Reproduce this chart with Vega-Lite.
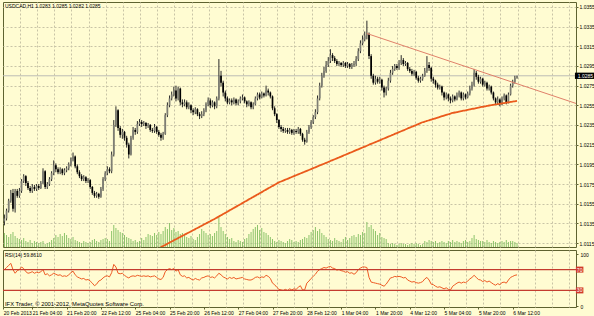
{
"$schema": "https://vega.github.io/schema/vega-lite/v6.json",
"background": "#FFFCD2",
"padding": {"left": 1, "top": 1, "right": 0, "bottom": 0},
"config": {
 "view": {"stroke": "#5E6230", "strokeWidth": 1},
 "axis": {"labelFont": "Liberation Sans", "labelFontSize": 5, "labelColor": "#000000", "tickColor": "#5E6230", "tickSize": 2, "domain": false, "gridColor": "#C8C4A6", "gridDash": [2, 2], "gridWidth": 1, "labelOverlap": false, "labelBound": false},
 "text": {"font": "Liberation Sans"}
},
"datasets": {
 "bars": [
{"i":0,"o":1.0137,"h":1.0144,"l":1.0133,"c":1.0140,"v":14,"r":70},
{"i":1,"o":1.0140,"h":1.0150,"l":1.0138,"c":1.0148,"v":12,"r":74},
{"i":2,"o":1.0148,"h":1.0160,"l":1.0146,"c":1.0158,"v":10,"r":78},
{"i":3,"o":1.0158,"h":1.0169,"l":1.0156,"c":1.0166,"v":13,"r":82},
{"i":4,"o":1.0166,"h":1.0170,"l":1.0147,"c":1.0150,"v":15,"r":70},
{"i":5,"o":1.0150,"h":1.0170,"l":1.0146,"c":1.0168,"v":11,"r":63},
{"i":6,"o":1.0168,"h":1.0170,"l":1.0161,"c":1.0163,"v":9,"r":68},
{"i":7,"o":1.0163,"h":1.0171,"l":1.0161,"c":1.0168,"v":8,"r":70},
{"i":8,"o":1.0168,"h":1.0180,"l":1.0166,"c":1.0178,"v":7,"r":75},
{"i":9,"o":1.0178,"h":1.0185,"l":1.0176,"c":1.0183,"v":9,"r":72},
{"i":10,"o":1.0183,"h":1.0184,"l":1.0173,"c":1.0176,"v":6,"r":66},
{"i":11,"o":1.0176,"h":1.0178,"l":1.0169,"c":1.0171,"v":5,"r":63},
{"i":12,"o":1.0171,"h":1.0173,"l":1.0166,"c":1.0168,"v":7,"r":64},
{"i":13,"o":1.0168,"h":1.0175,"l":1.0166,"c":1.0172,"v":4,"r":66},
{"i":14,"o":1.0172,"h":1.0174,"l":1.0168,"c":1.0170,"v":6,"r":63},
{"i":15,"o":1.0170,"h":1.0175,"l":1.0168,"c":1.0173,"v":5,"r":65},
{"i":16,"o":1.0173,"h":1.0175,"l":1.0169,"c":1.0171,"v":4,"r":64},
{"i":17,"o":1.0171,"h":1.0178,"l":1.0170,"c":1.0176,"v":5,"r":66},
{"i":18,"o":1.0176,"h":1.0191,"l":1.0175,"c":1.0188,"v":6,"r":70},
{"i":19,"o":1.0188,"h":1.0189,"l":1.0170,"c":1.0172,"v":3,"r":60},
{"i":20,"o":1.0172,"h":1.0177,"l":1.0170,"c":1.0175,"v":4,"r":62},
{"i":21,"o":1.0175,"h":1.0182,"l":1.0173,"c":1.0180,"v":5,"r":58},
{"i":22,"o":1.0180,"h":1.0188,"l":1.0178,"c":1.0186,"v":7,"r":60},
{"i":23,"o":1.0186,"h":1.0199,"l":1.0184,"c":1.0194,"v":9,"r":63},
{"i":24,"o":1.0194,"h":1.0196,"l":1.0187,"c":1.0190,"v":12,"r":61},
{"i":25,"o":1.0190,"h":1.0192,"l":1.0185,"c":1.0187,"v":10,"r":59},
{"i":26,"o":1.0187,"h":1.0192,"l":1.0185,"c":1.0190,"v":13,"r":60},
{"i":27,"o":1.0190,"h":1.0191,"l":1.0184,"c":1.0186,"v":11,"r":57},
{"i":28,"o":1.0186,"h":1.0191,"l":1.0184,"c":1.0189,"v":14,"r":58},
{"i":29,"o":1.0189,"h":1.0193,"l":1.0187,"c":1.0191,"v":12,"r":57},
{"i":30,"o":1.0191,"h":1.0197,"l":1.0189,"c":1.0195,"v":9,"r":60},
{"i":31,"o":1.0195,"h":1.0202,"l":1.0193,"c":1.0200,"v":8,"r":64},
{"i":32,"o":1.0200,"h":1.0207,"l":1.0198,"c":1.0203,"v":10,"r":67},
{"i":33,"o":1.0203,"h":1.0204,"l":1.0191,"c":1.0193,"v":7,"r":60},
{"i":34,"o":1.0193,"h":1.0195,"l":1.0185,"c":1.0187,"v":6,"r":56},
{"i":35,"o":1.0187,"h":1.0189,"l":1.0181,"c":1.0183,"v":5,"r":54},
{"i":36,"o":1.0183,"h":1.0185,"l":1.0178,"c":1.0180,"v":4,"r":52},
{"i":37,"o":1.0180,"h":1.0184,"l":1.0178,"c":1.0182,"v":6,"r":53},
{"i":38,"o":1.0182,"h":1.0183,"l":1.0176,"c":1.0178,"v":5,"r":50},
{"i":39,"o":1.0178,"h":1.0181,"l":1.0176,"c":1.0179,"v":4,"r":51},
{"i":40,"o":1.0179,"h":1.0180,"l":1.0170,"c":1.0172,"v":5,"r":48},
{"i":41,"o":1.0172,"h":1.0173,"l":1.0164,"c":1.0166,"v":7,"r":44},
{"i":42,"o":1.0166,"h":1.0168,"l":1.0161,"c":1.0163,"v":8,"r":39},
{"i":43,"o":1.0163,"h":1.0167,"l":1.0161,"c":1.0165,"v":6,"r":42},
{"i":44,"o":1.0165,"h":1.0166,"l":1.0160,"c":1.0162,"v":5,"r":48},
{"i":45,"o":1.0162,"h":1.0172,"l":1.0161,"c":1.0170,"v":7,"r":50},
{"i":46,"o":1.0170,"h":1.0182,"l":1.0168,"c":1.0180,"v":8,"r":54},
{"i":47,"o":1.0180,"h":1.0188,"l":1.0178,"c":1.0186,"v":9,"r":57},
{"i":48,"o":1.0186,"h":1.0193,"l":1.0184,"c":1.0190,"v":8,"r":58},
{"i":49,"o":1.0190,"h":1.0192,"l":1.0186,"c":1.0188,"v":6,"r":56},
{"i":50,"o":1.0188,"h":1.0208,"l":1.0186,"c":1.0205,"v":16,"r":64},
{"i":51,"o":1.0205,"h":1.0240,"l":1.0203,"c":1.0235,"v":22,"r":80},
{"i":52,"o":1.0235,"h":1.0254,"l":1.0233,"c":1.0250,"v":19,"r":75},
{"i":53,"o":1.0250,"h":1.0251,"l":1.0229,"c":1.0232,"v":17,"r":63},
{"i":54,"o":1.0232,"h":1.0234,"l":1.0222,"c":1.0225,"v":15,"r":62},
{"i":55,"o":1.0225,"h":1.0231,"l":1.0221,"c":1.0228,"v":14,"r":63},
{"i":56,"o":1.0228,"h":1.0229,"l":1.0219,"c":1.0222,"v":12,"r":59},
{"i":57,"o":1.0222,"h":1.0224,"l":1.0212,"c":1.0215,"v":10,"r":56},
{"i":58,"o":1.0215,"h":1.0217,"l":1.0201,"c":1.0205,"v":9,"r":54},
{"i":59,"o":1.0205,"h":1.0224,"l":1.0204,"c":1.0222,"v":8,"r":57},
{"i":60,"o":1.0222,"h":1.0233,"l":1.0220,"c":1.0230,"v":6,"r":58},
{"i":61,"o":1.0230,"h":1.0232,"l":1.0225,"c":1.0228,"v":7,"r":57},
{"i":62,"o":1.0228,"h":1.0239,"l":1.0226,"c":1.0236,"v":5,"r":59},
{"i":63,"o":1.0236,"h":1.0241,"l":1.0234,"c":1.0238,"v":6,"r":58},
{"i":64,"o":1.0238,"h":1.0240,"l":1.0233,"c":1.0236,"v":9,"r":57},
{"i":65,"o":1.0236,"h":1.0239,"l":1.0234,"c":1.0237,"v":7,"r":58},
{"i":66,"o":1.0237,"h":1.0238,"l":1.0231,"c":1.0234,"v":10,"r":57},
{"i":67,"o":1.0234,"h":1.0237,"l":1.0232,"c":1.0235,"v":13,"r":58},
{"i":68,"o":1.0235,"h":1.0236,"l":1.0228,"c":1.0230,"v":12,"r":56},
{"i":69,"o":1.0230,"h":1.0232,"l":1.0227,"c":1.0229,"v":11,"r":57},
{"i":70,"o":1.0229,"h":1.0236,"l":1.0227,"c":1.0233,"v":14,"r":58,"m":1.01074},
{"i":71,"o":1.0233,"h":1.0234,"l":1.0226,"c":1.0228,"v":12,"r":55,"m":1.01085},
{"i":72,"o":1.0228,"h":1.0230,"l":1.0223,"c":1.0225,"v":15,"r":52,"m":1.01097},
{"i":73,"o":1.0225,"h":1.0227,"l":1.0219,"c":1.0222,"v":13,"r":51,"m":1.01108},
{"i":74,"o":1.0222,"h":1.0228,"l":1.0220,"c":1.0226,"v":16,"r":55,"m":1.01120},
{"i":75,"o":1.0226,"h":1.0247,"l":1.0225,"c":1.0245,"v":20,"r":66,"m":1.01131},
{"i":76,"o":1.0245,"h":1.0258,"l":1.0243,"c":1.0255,"v":18,"r":70,"m":1.01143},
{"i":77,"o":1.0255,"h":1.0265,"l":1.0253,"c":1.0262,"v":24,"r":72,"m":1.01154},
{"i":78,"o":1.0262,"h":1.0269,"l":1.0260,"c":1.0266,"v":17,"r":70,"m":1.01166},
{"i":79,"o":1.0266,"h":1.0274,"l":1.0264,"c":1.0270,"v":19,"r":72,"m":1.01177},
{"i":80,"o":1.0270,"h":1.0275,"l":1.0259,"c":1.0262,"v":15,"r":67,"m":1.01189},
{"i":81,"o":1.0262,"h":1.0274,"l":1.0260,"c":1.0272,"v":16,"r":70,"m":1.01200},
{"i":82,"o":1.0272,"h":1.0273,"l":1.0255,"c":1.0258,"v":13,"r":60,"m":1.01212},
{"i":83,"o":1.0258,"h":1.0261,"l":1.0253,"c":1.0256,"v":14,"r":57,"m":1.01223},
{"i":84,"o":1.0256,"h":1.0261,"l":1.0254,"c":1.0258,"v":12,"r":58,"m":1.01235},
{"i":85,"o":1.0258,"h":1.0260,"l":1.0251,"c":1.0253,"v":10,"r":54,"m":1.01246},
{"i":86,"o":1.0253,"h":1.0258,"l":1.0251,"c":1.0255,"v":9,"r":55,"m":1.01258},
{"i":87,"o":1.0255,"h":1.0256,"l":1.0247,"c":1.0250,"v":11,"r":52,"m":1.01269},
{"i":88,"o":1.0250,"h":1.0252,"l":1.0245,"c":1.0248,"v":8,"r":50,"m":1.01280},
{"i":89,"o":1.0248,"h":1.0253,"l":1.0246,"c":1.0251,"v":7,"r":53,"m":1.01292},
{"i":90,"o":1.0251,"h":1.0252,"l":1.0244,"c":1.0246,"v":10,"r":51,"m":1.01303},
{"i":91,"o":1.0246,"h":1.0248,"l":1.0241,"c":1.0244,"v":13,"r":50,"m":1.01315},
{"i":92,"o":1.0244,"h":1.0249,"l":1.0242,"c":1.0246,"v":18,"r":54,"m":1.01326},
{"i":93,"o":1.0246,"h":1.0252,"l":1.0244,"c":1.0250,"v":16,"r":55,"m":1.01338},
{"i":94,"o":1.0250,"h":1.0258,"l":1.0248,"c":1.0256,"v":14,"r":57,"m":1.01349},
{"i":95,"o":1.0256,"h":1.0263,"l":1.0254,"c":1.0260,"v":12,"r":58,"m":1.01361},
{"i":96,"o":1.0260,"h":1.0262,"l":1.0252,"c":1.0255,"v":13,"r":55,"m":1.01372},
{"i":97,"o":1.0255,"h":1.0260,"l":1.0253,"c":1.0258,"v":11,"r":56,"m":1.01384},
{"i":98,"o":1.0258,"h":1.0259,"l":1.0251,"c":1.0254,"v":14,"r":54,"m":1.01395},
{"i":99,"o":1.0254,"h":1.0264,"l":1.0252,"c":1.0262,"v":16,"r":58,"m":1.01407},
{"i":100,"o":1.0262,"h":1.0302,"l":1.0260,"c":1.0285,"v":30,"r":63,"m":1.01420},
{"i":101,"o":1.0285,"h":1.0290,"l":1.0274,"c":1.0278,"v":20,"r":60,"m":1.01432},
{"i":102,"o":1.0278,"h":1.0280,"l":1.0264,"c":1.0268,"v":16,"r":56,"m":1.01445},
{"i":103,"o":1.0268,"h":1.0270,"l":1.0259,"c":1.0262,"v":13,"r":54,"m":1.01457},
{"i":104,"o":1.0262,"h":1.0264,"l":1.0256,"c":1.0258,"v":10,"r":52,"m":1.01469},
{"i":105,"o":1.0258,"h":1.0262,"l":1.0256,"c":1.0260,"v":8,"r":55,"m":1.01482},
{"i":106,"o":1.0260,"h":1.0262,"l":1.0255,"c":1.0258,"v":9,"r":53,"m":1.01494},
{"i":107,"o":1.0258,"h":1.0263,"l":1.0256,"c":1.0261,"v":6,"r":55,"m":1.01507},
{"i":108,"o":1.0261,"h":1.0262,"l":1.0255,"c":1.0257,"v":5,"r":52,"m":1.01519},
{"i":109,"o":1.0257,"h":1.0261,"l":1.0255,"c":1.0259,"v":7,"r":53,"m":1.01532},
{"i":110,"o":1.0259,"h":1.0264,"l":1.0257,"c":1.0262,"v":6,"r":54,"m":1.01544},
{"i":111,"o":1.0262,"h":1.0266,"l":1.0260,"c":1.0263,"v":5,"r":55,"m":1.01556},
{"i":112,"o":1.0263,"h":1.0264,"l":1.0257,"c":1.0259,"v":8,"r":52,"m":1.01569},
{"i":113,"o":1.0259,"h":1.0260,"l":1.0253,"c":1.0256,"v":9,"r":51,"m":1.01581},
{"i":114,"o":1.0256,"h":1.0260,"l":1.0254,"c":1.0258,"v":13,"r":50,"m":1.01594},
{"i":115,"o":1.0258,"h":1.0259,"l":1.0251,"c":1.0253,"v":15,"r":50,"m":1.01606},
{"i":116,"o":1.0253,"h":1.0258,"l":1.0251,"c":1.0256,"v":18,"r":52,"m":1.01619},
{"i":117,"o":1.0256,"h":1.0264,"l":1.0255,"c":1.0262,"v":20,"r":55,"m":1.01631},
{"i":118,"o":1.0262,"h":1.0268,"l":1.0260,"c":1.0266,"v":22,"r":56,"m":1.01643},
{"i":119,"o":1.0266,"h":1.0268,"l":1.0261,"c":1.0263,"v":17,"r":54,"m":1.01656},
{"i":120,"o":1.0263,"h":1.0269,"l":1.0262,"c":1.0267,"v":19,"r":56,"m":1.01668},
{"i":121,"o":1.0267,"h":1.0268,"l":1.0263,"c":1.0265,"v":15,"r":55,"m":1.01681},
{"i":122,"o":1.0265,"h":1.0275,"l":1.0264,"c":1.0270,"v":14,"r":59,"m":1.01693},
{"i":123,"o":1.0270,"h":1.0272,"l":1.0265,"c":1.0268,"v":12,"r":57,"m":1.01706},
{"i":124,"o":1.0268,"h":1.0269,"l":1.0262,"c":1.0264,"v":10,"r":53,"m":1.01718},
{"i":125,"o":1.0264,"h":1.0265,"l":1.0250,"c":1.0252,"v":8,"r":44,"m":1.01730},
{"i":126,"o":1.0252,"h":1.0254,"l":1.0244,"c":1.0246,"v":6,"r":41,"m":1.01743},
{"i":127,"o":1.0246,"h":1.0247,"l":1.0237,"c":1.0240,"v":5,"r":36,"m":1.01755},
{"i":128,"o":1.0240,"h":1.0241,"l":1.0231,"c":1.0233,"v":7,"r":32,"m":1.01767},
{"i":129,"o":1.0233,"h":1.0235,"l":1.0228,"c":1.0231,"v":6,"r":31,"m":1.01776},
{"i":130,"o":1.0231,"h":1.0233,"l":1.0227,"c":1.0229,"v":5,"r":30,"m":1.01785},
{"i":131,"o":1.0229,"h":1.0232,"l":1.0227,"c":1.0230,"v":4,"r":32,"m":1.01794},
{"i":132,"o":1.0230,"h":1.0232,"l":1.0226,"c":1.0228,"v":6,"r":30,"m":1.01803},
{"i":133,"o":1.0228,"h":1.0232,"l":1.0226,"c":1.0230,"v":8,"r":33,"m":1.01812},
{"i":134,"o":1.0230,"h":1.0231,"l":1.0225,"c":1.0227,"v":7,"r":31,"m":1.01821},
{"i":135,"o":1.0227,"h":1.0231,"l":1.0225,"c":1.0229,"v":5,"r":33,"m":1.01830},
{"i":136,"o":1.0229,"h":1.0231,"l":1.0226,"c":1.0228,"v":6,"r":32,"m":1.01839},
{"i":137,"o":1.0228,"h":1.0233,"l":1.0226,"c":1.0231,"v":5,"r":36,"m":1.01848},
{"i":138,"o":1.0231,"h":1.0232,"l":1.0224,"c":1.0226,"v":7,"r":39,"m":1.01857},
{"i":139,"o":1.0226,"h":1.0227,"l":1.0218,"c":1.0220,"v":8,"r":31,"m":1.01866},
{"i":140,"o":1.0220,"h":1.0222,"l":1.0215,"c":1.0218,"v":10,"r":31,"m":1.01875},
{"i":141,"o":1.0218,"h":1.0230,"l":1.0217,"c":1.0228,"v":9,"r":44,"m":1.01884},
{"i":142,"o":1.0228,"h":1.0235,"l":1.0226,"c":1.0233,"v":12,"r":48,"m":1.01893},
{"i":143,"o":1.0233,"h":1.0240,"l":1.0231,"c":1.0238,"v":15,"r":53,"m":1.01902},
{"i":144,"o":1.0238,"h":1.0245,"l":1.0236,"c":1.0243,"v":17,"r":57,"m":1.01911},
{"i":145,"o":1.0243,"h":1.0251,"l":1.0241,"c":1.0248,"v":20,"r":61,"m":1.01920},
{"i":146,"o":1.0248,"h":1.0265,"l":1.0246,"c":1.0262,"v":16,"r":67,"m":1.01929},
{"i":147,"o":1.0262,"h":1.0278,"l":1.0260,"c":1.0275,"v":18,"r":70,"m":1.01938},
{"i":148,"o":1.0275,"h":1.0288,"l":1.0273,"c":1.0285,"v":14,"r":72,"m":1.01947},
{"i":149,"o":1.0285,"h":1.0294,"l":1.0283,"c":1.0290,"v":12,"r":74,"m":1.01956},
{"i":150,"o":1.0290,"h":1.0300,"l":1.0288,"c":1.0296,"v":10,"r":73,"m":1.01965},
{"i":151,"o":1.0296,"h":1.0304,"l":1.0294,"c":1.0300,"v":8,"r":75,"m":1.01974},
{"i":152,"o":1.0300,"h":1.0312,"l":1.0298,"c":1.0306,"v":7,"r":76,"m":1.01984},
{"i":153,"o":1.0306,"h":1.0308,"l":1.0300,"c":1.0303,"v":6,"r":73,"m":1.01993},
{"i":154,"o":1.0303,"h":1.0305,"l":1.0298,"c":1.0300,"v":9,"r":72,"m":1.02002},
{"i":155,"o":1.0300,"h":1.0302,"l":1.0295,"c":1.0297,"v":7,"r":69,"m":1.02011},
{"i":156,"o":1.0297,"h":1.0300,"l":1.0295,"c":1.0298,"v":6,"r":70,"m":1.02020},
{"i":157,"o":1.0298,"h":1.0299,"l":1.0294,"c":1.0296,"v":5,"r":68,"m":1.02029},
{"i":158,"o":1.0296,"h":1.0300,"l":1.0294,"c":1.0298,"v":8,"r":67,"m":1.02039},
{"i":159,"o":1.0298,"h":1.0299,"l":1.0293,"c":1.0295,"v":10,"r":65,"m":1.02048},
{"i":160,"o":1.0295,"h":1.0299,"l":1.0293,"c":1.0297,"v":7,"r":66,"m":1.02057},
{"i":161,"o":1.0297,"h":1.0298,"l":1.0292,"c":1.0294,"v":9,"r":63,"m":1.02066},
{"i":162,"o":1.0294,"h":1.0298,"l":1.0292,"c":1.0296,"v":11,"r":64,"m":1.02075},
{"i":163,"o":1.0296,"h":1.0300,"l":1.0294,"c":1.0297,"v":12,"r":61,"m":1.02084},
{"i":164,"o":1.0297,"h":1.0305,"l":1.0295,"c":1.0302,"v":10,"r":64,"m":1.02094},
{"i":165,"o":1.0302,"h":1.0313,"l":1.0300,"c":1.0310,"v":13,"r":70,"m":1.02103},
{"i":166,"o":1.0310,"h":1.0321,"l":1.0308,"c":1.0318,"v":12,"r":73,"m":1.02112},
{"i":167,"o":1.0318,"h":1.0326,"l":1.0316,"c":1.0322,"v":15,"r":75,"m":1.02121},
{"i":168,"o":1.0322,"h":1.0330,"l":1.0320,"c":1.0326,"v":14,"r":75,"m":1.02130},
{"i":169,"o":1.0326,"h":1.0341,"l":1.0322,"c":1.0327,"v":25,"r":74,"m":1.02139},
{"i":170,"o":1.0327,"h":1.0329,"l":1.0302,"c":1.0305,"v":20,"r":55,"m":1.02149},
{"i":171,"o":1.0305,"h":1.0307,"l":1.0282,"c":1.0285,"v":22,"r":46,"m":1.02158},
{"i":172,"o":1.0285,"h":1.0287,"l":1.0276,"c":1.0278,"v":18,"r":45,"m":1.02167},
{"i":173,"o":1.0278,"h":1.0285,"l":1.0276,"c":1.0282,"v":16,"r":44,"m":1.02176},
{"i":174,"o":1.0282,"h":1.0284,"l":1.0277,"c":1.0279,"v":12,"r":43,"m":1.02185},
{"i":175,"o":1.0279,"h":1.0284,"l":1.0277,"c":1.0281,"v":14,"r":42,"m":1.02194},
{"i":176,"o":1.0281,"h":1.0282,"l":1.0270,"c":1.0273,"v":10,"r":40,"m":1.02204},
{"i":177,"o":1.0273,"h":1.0275,"l":1.0263,"c":1.0268,"v":9,"r":38,"m":1.02213},
{"i":178,"o":1.0268,"h":1.0274,"l":1.0265,"c":1.0272,"v":8,"r":42,"m":1.02222},
{"i":179,"o":1.0272,"h":1.0283,"l":1.0270,"c":1.0280,"v":4,"r":48,"m":1.02231},
{"i":180,"o":1.0280,"h":1.0291,"l":1.0278,"c":1.0288,"v":3,"r":54,"m":1.02240},
{"i":181,"o":1.0288,"h":1.0295,"l":1.0286,"c":1.0292,"v":4,"r":55,"m":1.02249},
{"i":182,"o":1.0292,"h":1.0297,"l":1.0290,"c":1.0295,"v":3,"r":57,"m":1.02259},
{"i":183,"o":1.0295,"h":1.0297,"l":1.0291,"c":1.0293,"v":2,"r":56,"m":1.02268},
{"i":184,"o":1.0293,"h":1.0301,"l":1.0291,"c":1.0298,"v":3,"r":57,"m":1.02277},
{"i":185,"o":1.0298,"h":1.0306,"l":1.0296,"c":1.0301,"v":4,"r":56,"m":1.02286},
{"i":186,"o":1.0301,"h":1.0303,"l":1.0295,"c":1.0297,"v":3,"r":54,"m":1.02295},
{"i":187,"o":1.0297,"h":1.0300,"l":1.0295,"c":1.0298,"v":3,"r":55,"m":1.02304},
{"i":188,"o":1.0298,"h":1.0299,"l":1.0290,"c":1.0292,"v":2,"r":50,"m":1.02314},
{"i":189,"o":1.0292,"h":1.0294,"l":1.0288,"c":1.0290,"v":3,"r":48,"m":1.02323},
{"i":190,"o":1.0290,"h":1.0292,"l":1.0285,"c":1.0287,"v":4,"r":46,"m":1.02332},
{"i":191,"o":1.0287,"h":1.0291,"l":1.0285,"c":1.0289,"v":3,"r":47,"m":1.02341},
{"i":192,"o":1.0289,"h":1.0290,"l":1.0281,"c":1.0283,"v":4,"r":45,"m":1.02350},
{"i":193,"o":1.0283,"h":1.0285,"l":1.0278,"c":1.0280,"v":3,"r":44,"m":1.02359},
{"i":194,"o":1.0280,"h":1.0284,"l":1.0278,"c":1.0282,"v":2,"r":45,"m":1.02369},
{"i":195,"o":1.0282,"h":1.0287,"l":1.0280,"c":1.0285,"v":3,"r":47,"m":1.02378},
{"i":196,"o":1.0285,"h":1.0293,"l":1.0284,"c":1.0290,"v":6,"r":52,"m":1.02385},
{"i":197,"o":1.0290,"h":1.0305,"l":1.0288,"c":1.0296,"v":5,"r":55,"m":1.02391},
{"i":198,"o":1.0296,"h":1.0299,"l":1.0290,"c":1.0293,"v":7,"r":50,"m":1.02398},
{"i":199,"o":1.0293,"h":1.0294,"l":1.0279,"c":1.0282,"v":6,"r":42,"m":1.02405},
{"i":200,"o":1.0282,"h":1.0284,"l":1.0277,"c":1.0280,"v":5,"r":41,"m":1.02412},
{"i":201,"o":1.0280,"h":1.0281,"l":1.0273,"c":1.0276,"v":6,"r":38,"m":1.02418},
{"i":202,"o":1.0276,"h":1.0278,"l":1.0271,"c":1.0273,"v":4,"r":36,"m":1.02425},
{"i":203,"o":1.0273,"h":1.0276,"l":1.0271,"c":1.0274,"v":5,"r":37,"m":1.02432},
{"i":204,"o":1.0274,"h":1.0275,"l":1.0265,"c":1.0268,"v":6,"r":35,"m":1.02439},
{"i":205,"o":1.0268,"h":1.0269,"l":1.0260,"c":1.0263,"v":5,"r":33,"m":1.02445},
{"i":206,"o":1.0263,"h":1.0268,"l":1.0261,"c":1.0266,"v":4,"r":35,"m":1.02452},
{"i":207,"o":1.0266,"h":1.0267,"l":1.0259,"c":1.0262,"v":6,"r":32,"m":1.02459},
{"i":208,"o":1.0262,"h":1.0264,"l":1.0257,"c":1.0260,"v":5,"r":31,"m":1.02466},
{"i":209,"o":1.0260,"h":1.0266,"l":1.0258,"c":1.0264,"v":7,"r":38,"m":1.02472},
{"i":210,"o":1.0264,"h":1.0265,"l":1.0259,"c":1.0261,"v":5,"r":41,"m":1.02477},
{"i":211,"o":1.0261,"h":1.0268,"l":1.0260,"c":1.0265,"v":6,"r":44,"m":1.02481},
{"i":212,"o":1.0265,"h":1.0270,"l":1.0263,"c":1.0268,"v":5,"r":46,"m":1.02486},
{"i":213,"o":1.0268,"h":1.0269,"l":1.0260,"c":1.0262,"v":4,"r":44,"m":1.02490},
{"i":214,"o":1.0262,"h":1.0268,"l":1.0260,"c":1.0266,"v":6,"r":46,"m":1.02495},
{"i":215,"o":1.0266,"h":1.0267,"l":1.0261,"c":1.0263,"v":7,"r":45,"m":1.02499},
{"i":216,"o":1.0263,"h":1.0269,"l":1.0262,"c":1.0267,"v":5,"r":48,"m":1.02504},
{"i":217,"o":1.0267,"h":1.0275,"l":1.0265,"c":1.0272,"v":6,"r":52,"m":1.02508},
{"i":218,"o":1.0272,"h":1.0279,"l":1.0270,"c":1.0276,"v":9,"r":55,"m":1.02513},
{"i":219,"o":1.0276,"h":1.0292,"l":1.0274,"c":1.0288,"v":12,"r":59,"m":1.02517},
{"i":220,"o":1.0288,"h":1.0290,"l":1.0281,"c":1.0284,"v":8,"r":55,"m":1.02522},
{"i":221,"o":1.0284,"h":1.0286,"l":1.0277,"c":1.0279,"v":7,"r":51,"m":1.02526},
{"i":222,"o":1.0279,"h":1.0284,"l":1.0277,"c":1.0282,"v":6,"r":50,"m":1.02531},
{"i":223,"o":1.0282,"h":1.0283,"l":1.0274,"c":1.0276,"v":6,"r":47,"m":1.02535},
{"i":224,"o":1.0276,"h":1.0280,"l":1.0274,"c":1.0278,"v":5,"r":49,"m":1.02540},
{"i":225,"o":1.0278,"h":1.0279,"l":1.0270,"c":1.0272,"v":7,"r":46,"m":1.02544},
{"i":226,"o":1.0272,"h":1.0276,"l":1.0270,"c":1.0274,"v":5,"r":48,"m":1.02548},
{"i":227,"o":1.0274,"h":1.0275,"l":1.0266,"c":1.0268,"v":4,"r":45,"m":1.02551},
{"i":228,"o":1.0268,"h":1.0269,"l":1.0260,"c":1.0262,"v":6,"r":42,"m":1.02555},
{"i":229,"o":1.0262,"h":1.0263,"l":1.0256,"c":1.0258,"v":5,"r":40,"m":1.02559},
{"i":230,"o":1.0258,"h":1.0264,"l":1.0256,"c":1.0261,"v":4,"r":43,"m":1.02562},
{"i":231,"o":1.0261,"h":1.0262,"l":1.0254,"c":1.0256,"v":5,"r":41,"m":1.02566},
{"i":232,"o":1.0256,"h":1.0264,"l":1.0255,"c":1.0262,"v":6,"r":45,"m":1.02570},
{"i":233,"o":1.0262,"h":1.0267,"l":1.0260,"c":1.0265,"v":5,"r":46,"m":1.02573},
{"i":234,"o":1.0265,"h":1.0266,"l":1.0256,"c":1.0258,"v":7,"r":44,"m":1.02577},
{"i":235,"o":1.0258,"h":1.0268,"l":1.0257,"c":1.0266,"v":5,"r":50,"m":1.02580},
{"i":236,"o":1.0266,"h":1.0277,"l":1.0265,"c":1.0275,"v":6,"r":55,"m":1.02584},
{"i":237,"o":1.0275,"h":1.0281,"l":1.0273,"c":1.0279,"v":6,"r":57,"m":1.02588},
{"i":238,"o":1.0279,"h":1.0285,"l":1.0277,"c":1.0283,"v":5,"r":59,"m":1.02591},
{"i":239,"o":1.0283,"h":1.0285,"l":1.0282,"c":1.0285,"v":4,"r":59.861,"m":1.02595}
 ],
 "trend": [{"i": 169, "p": 1.0328}, {"i": 266.5, "p": 1.02569}],
 "bid": [{"bid": 1.0285}],
 "levels": [{"lv": 70}, {"lv": 30}],
 "head": [{"t": "USDCAD,H1  1.0283 1.0285 1.0282 1.0285"}],
 "rsihead": [{"t": "RSI(14) 59.8610"}],
 "copy": [{"t": "IFX Trader, \u00a9 2001-2012, MetaQuotes Software Corp."}]
},
"spacing": 1,
"vconcat": [
 {
  "width": 573, "height": 245,
  "resolve": {"scale": {"y": "independent"}},
  "layer": [
   {
    "data": {"name": "bars"},
    "mark": {"type": "rule", "color": "#8CC36A", "strokeWidth": 1},
    "encoding": {
     "x": {"field": "i", "type": "quantitative", "title": null,
           "scale": {"domain": [-0.65, 266.5], "nice": false, "zero": false},
           "axis": {"orient": "top", "labels": false, "ticks": false, "grid": true, "tickCount": 500,
                    "values": [7.25,15.25,23.25,31.25,39.25,47.25,55.25,63.25,71.25,79.25,87.25,95.25,103.25,111.25,119.25,127.25,135.25,143.25,151.25,159.25,167.25,175.25,183.25,191.25,199.25,207.25,215.25,223.25,231.25,239.25,247.25,255.25,263.25]}},
     "y": {"field": "v", "type": "quantitative", "title": null, "scale": {"domain": [0, 245], "nice": false}, "axis": null},
     "y2": {"datum": 0}
    }
   },
   {
    "layer": [
     {
      "data": {"name": "bid"},
      "mark": {"type": "rule", "color": "#BDBDB5", "strokeWidth": 1},
      "encoding": {
       "y": {"field": "bid", "type": "quantitative", "title": null,
             "scale": {"domain": [1.0111, 1.036], "nice": false, "zero": false},
             "axis": {"orient": "right", "format": ".4f", "grid": true, "ticks": true, "tickSize": 2, "labelPadding": 1, "labelOverlap": false, "tickCount": 500,
                      "values": [1.0115,1.0135,1.0155,1.0175,1.0195,1.0215,1.0235,1.0255,1.0275,1.0295,1.0315,1.0335,1.0355]}}
      }
     },
     {
      "data": {"name": "bars"},
      "mark": {"type": "rule", "color": "#2A2A2A", "strokeWidth": 1},
      "encoding": {
       "x": {"field": "i", "type": "quantitative", "title": null},
       "y": {"field": "l", "type": "quantitative", "title": null},
       "y2": {"field": "h"}
      }
     },
     {
      "data": {"name": "bars"},
      "mark": {"type": "rule", "strokeWidth": 1.7},
      "encoding": {
       "x": {"field": "i", "type": "quantitative", "title": null},
       "y": {"field": "o", "type": "quantitative", "title": null},
       "y2": {"field": "c"},
       "color": {"condition": {"test": "datum.c < datum.o", "value": "#000000"}, "value": "#7E7E74"}
      }
     },
     {
      "data": {"name": "bars"},
      "mark": {"type": "line", "color": "#EA5A1C", "strokeWidth": 1.8, "clip": true, "interpolate": "monotone"},
      "encoding": {
       "x": {"field": "i", "type": "quantitative", "title": null},
       "y": {"field": "m", "type": "quantitative", "title": null}
      }
     },
     {
      "data": {"name": "trend"},
      "mark": {"type": "line", "color": "#E0806A", "strokeWidth": 1, "clip": true},
      "encoding": {
       "x": {"field": "i", "type": "quantitative", "title": null},
       "y": {"field": "p", "type": "quantitative", "title": null}
      }
     },
     {
      "data": {"name": "bid"},
      "mark": {"type": "point", "shape": "M-1,-0.3H1V0.3H-1Z", "filled": true, "size": 441, "color": "#000000", "opacity": 1},
      "encoding": {
       "x": {"datum": 270.9, "type": "quantitative"},
       "y": {"field": "bid", "type": "quantitative", "title": null}
      }
     },
     {
      "data": {"name": "bid"},
      "mark": {"type": "text", "color": "#FFFFFF", "fontSize": 5, "align": "center", "baseline": "middle"},
      "encoding": {
       "x": {"datum": 270.9, "type": "quantitative"},
       "y": {"field": "bid", "type": "quantitative", "title": null},
       "text": {"field": "bid", "type": "quantitative", "format": ".4f"}
      }
     },
     {
      "data": {"name": "head"},
      "mark": {"type": "text", "color": "#000000", "fontSize": 5, "align": "left", "baseline": "top", "dx": 2, "dy": 2},
      "encoding": {
       "x": {"datum": -0.65, "type": "quantitative"},
       "y": {"datum": 1.036, "type": "quantitative"},
       "text": {"field": "t", "type": "nominal"}
      }
     }
    ]
   }
  ]
 },
 {
  "width": 573, "height": 57,
  "layer": [
   {
    "data": {"name": "bars"},
    "mark": {"type": "line", "color": "#EE5A24", "strokeWidth": 1},
    "encoding": {
     "x": {"field": "i", "type": "quantitative", "title": null,
           "scale": {"domain": [-0.65, 266.5], "nice": false, "zero": false},
           "axis": {"orient": "bottom", "grid": true, "ticks": true, "tickSize": 2, "labelAlign": "left", "labelPadding": 1, "labelFlush": false, "labelOverlap": false, "tickCount": 500,
                    "gridOpacity": {"condition": {"test": "datum.value % 1 == 0.25", "value": 1}, "value": 0},
                    "tickOpacity": {"condition": {"test": "datum.value % 1 == 0.25", "value": 0}, "value": 1},
                    "values": [-0.5,7.25,13,15.25,23.25,29,31.25,39.25,45,47.25,55.25,61,63.25,71.25,77,79.25,87.25,93,95.25,103.25,109,111.25,119.25,125,127.25,135.25,141,143.25,151.25,157,159.25,167.25,173,175.25,183.25,189,191.25,199.25,205,207.25,215.25,221,223.25,231.25,237,239.25,247.25,255.25,263.25],
                    "labelExpr": "datum.value < 0 ? '20 Feb 2013' : ((datum.value - 13) % 16 == 0 ? ['21 Feb 04:00','21 Feb 20:00','22 Feb 12:00','25 Feb 04:00','25 Feb 20:00','26 Feb 12:00','27 Feb 04:00','27 Feb 20:00','28 Feb 12:00','1 Mar 04:00','1 Mar 20:00','4 Mar 12:00','5 Mar 04:00','5 Mar 20:00','6 Mar 12:00'][(datum.value - 13) / 16] : '')"}},
     "y": {"field": "r", "type": "quantitative", "title": null,
           "scale": {"domain": [-1.9, 107.7], "nice": false, "zero": false},
           "axis": {"orient": "right", "values": [0, 100], "grid": false, "ticks": true, "tickSize": 2, "labelPadding": 2, "labelOverlap": false, "tickCount": 50}}
    }
   },
   {
    "data": {"name": "levels"},
    "mark": {"type": "rule", "color": "#C43C2E", "strokeWidth": 1.3},
    "encoding": {
     "y": {"field": "lv", "type": "quantitative", "title": null}
    }
   },
   {
    "data": {"name": "levels"},
    "mark": {"type": "point", "shape": "M-1,-0.8H1V0.8H-1Z", "filled": true, "size": 56, "color": "#D03A2A", "opacity": 1},
    "encoding": {
     "x": {"datum": 268.2, "type": "quantitative"},
     "y": {"field": "lv", "type": "quantitative", "title": null}
    }
   },
   {
    "data": {"name": "levels"},
    "mark": {"type": "text", "color": "#FFFFFF", "fontSize": 5, "align": "center", "baseline": "middle"},
    "encoding": {
     "x": {"datum": 268.2, "type": "quantitative"},
     "y": {"field": "lv", "type": "quantitative", "title": null},
     "text": {"field": "lv", "type": "quantitative"}
    }
   },
   {
    "data": {"name": "rsihead"},
    "mark": {"type": "text", "color": "#000000", "fontSize": 5, "align": "left", "baseline": "top", "dx": 2, "dy": 3},
    "encoding": {
     "x": {"datum": -0.65, "type": "quantitative"},
     "y": {"datum": 107.7, "type": "quantitative"},
     "text": {"field": "t", "type": "nominal"}
    }
   },
   {
    "data": {"name": "copy"},
    "mark": {"type": "text", "color": "#000000", "fontSize": 5.8, "align": "left", "baseline": "bottom", "dx": 2, "dy": 0},
    "encoding": {
     "x": {"datum": -0.65, "type": "quantitative"},
     "y": {"datum": -1.9, "type": "quantitative"},
     "text": {"field": "t", "type": "nominal"}
    }
   }
  ]
 }
]
}
